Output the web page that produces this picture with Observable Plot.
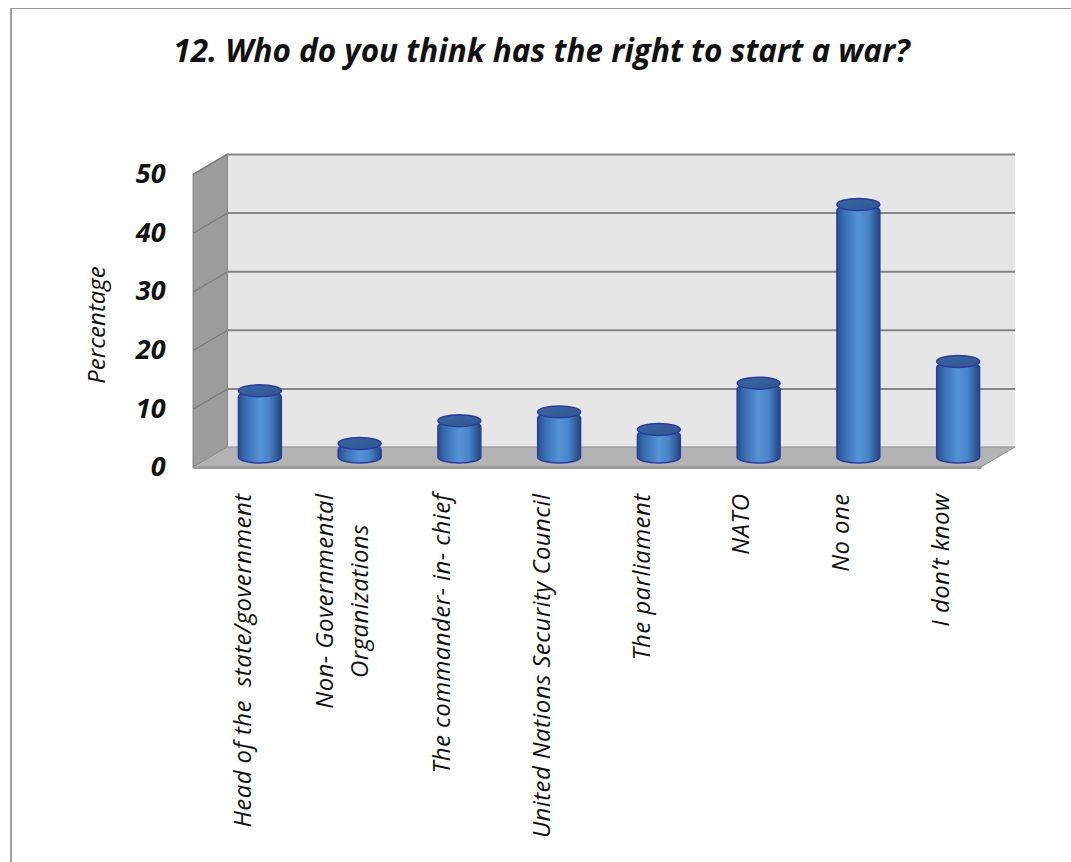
<!DOCTYPE html>
<html>
<head>
<meta charset="utf-8">
<script src="https://cdn.jsdelivr.net/npm/d3@7"></script>
<script src="https://cdn.jsdelivr.net/npm/@observablehq/plot@0.6"></script>
<style>
  html, body { margin: 0; padding: 0; background: #fff; }
  #wrap { position: relative; width: 1071px; height: 862px; overflow: hidden; background: #fff; }
  #frame { position: absolute; left: 10px; top: 8px; width: 1100px; height: 900px;
           border-top: 1.5px solid #9a9a9a; border-left: 2px solid #a0a0a0; }
  #title { position: relative; height: 100px; box-sizing: border-box; padding-top: 28px;
           padding-left: 12px; text-align: center; font-family: "Open Sans", Lato, sans-serif;
           font-weight: bold; font-style: italic; font-size: 31.5px; color: #111; letter-spacing: 0px; }
  #chart { position: relative; }
  svg text { font-family: "Open Sans", Lato, sans-serif; }
</style>
</head>
<body>
<div id="wrap">
  <div id="frame"></div>
  <div id="title">12. Who do you think has the right to start a war?</div>
  <div id="chart"></div>
</div>
<script>
const categories = [
  "Head of the  state/government",
  "Non- Governmental\nOrganizations",
  "The commander- in- chief",
  "United Nations Security Council",
  "The parliament",
  "NATO",
  "No one",
  "I don\u2019t know"
];
const values = [11.3, 2.3, 6.2, 7.7, 4.7, 12.6, 43.1, 16.3];
const yTicks = [0, 10, 20, 30, 40, 50];
const yLabel = "Percentage";

// depth of the 3D box, in data units (x: category steps, y: percent)
const DX = 0.34, DY = 3.41;
const xMin = -0.5, xMax = categories.length - 0.6;
const yMax = d3.max(yTicks);
const halfW = 0.215;   // cylinder half-width in category units
const capR = 1.02;     // cylinder cap half-height in percent units

const rows = categories.map((c, i) => ({i, c, v: values[i]}));
const sideWall = [{x: xMin, y1: 0, y2: yMax}, {x: xMin - DX, y1: -DY, y2: yMax - DY}];
const floor = [{y: -DY, x1: xMin - DX, x2: xMax - DX}, {y: 0, x1: xMin, x2: xMax}];

const plot = Plot.plot({
  width: 1071,
  height: 762,
  marginLeft: 227,
  marginRight: 46,
  marginTop: 54,
  marginBottom: 415,
  x: {type: "linear", domain: [-0.5, categories.length - 0.5], axis: null},
  y: {domain: [0, yMax], axis: null},
  marks: [
    // back wall
    Plot.rect([0], {x1: xMin, x2: xMax, y1: 0, y2: yMax, fill: "#e6e6e6"}),
    // side wall
    Plot.area(sideWall, {x1: "x", y1: "y1", y2: "y2", fill: "#9d9d9d", stroke: "#7d7d7d", strokeWidth: 1}),
    // floor
    Plot.area(floor, {x1: "x1", x2: "x2", y1: "y", fill: "#b3b3b3", stroke: "#8f8f8f", strokeWidth: 1}),
    Plot.link([0], {x1: xMin - DX, y1: -DY, x2: xMax - DX, y2: -DY, stroke: "#9a9a9a", strokeWidth: 3}),
    // grid lines on back wall
    Plot.ruleY(yTicks.filter(t => t > 0), {x1: xMin, x2: xMax, stroke: "#858585", strokeWidth: 2}),
    // grid lines on side wall
    Plot.link(yTicks.filter(t => t > 0), {x1: xMin, y1: d => d, x2: xMin - DX, y2: d => d - DY, stroke: "#7a7a7a", strokeWidth: 1.2}),
    Plot.link([0], {x1: xMin, y1: 0, x2: xMin, y2: yMax, stroke: "#8a8a8a", strokeWidth: 1}),
    // cylinders
    Plot.rect(rows, {x1: d => d.i - halfW, x2: d => d.i + halfW, y1: -capR, y2: d => d.v,
      rx: 21.5, ry: 6, dx: -17, dy: 10, fill: "url(#cylBody)", stroke: "#2c3a9e", strokeWidth: 1.5}),
    Plot.rect(rows, {x1: d => d.i - halfW, x2: d => d.i + halfW, y1: d => d.v - capR, y2: d => d.v + capR,
      rx: 21.5, ry: 6, dx: -17, dy: 10, fill: "url(#cylCap)", stroke: "#2c3a9e", strokeWidth: 1.5}),
    // y tick labels
    Plot.text(yTicks, {x: xMin - DX, y: d => d - DY, text: d => String(d), textAnchor: "end", dx: -28,
      fontSize: 27, fontWeight: "bold", fontStyle: "italic", fill: "#111"}),
    // y label
    Plot.text([yLabel], {x: xMin, y: yMax / 2, dx: -130, dy: 24, rotate: -90, fontSize: 24,
      fontStyle: "italic", fill: "#111"}),
    // category labels (last text mark)
    Plot.text(rows, {x: "i", y: -DY, text: "c", rotate: -90, textAnchor: "middle", dx: -38, dy: 26,
      lineHeight: 1.45, fontSize: 24, fontStyle: "italic", fill: "#111"})
  ]
});

document.getElementById("chart").appendChild(plot);

// gradients for cylinder shading
const svg = d3.select(plot);
const defs = svg.insert("defs", ":first-child");
const body = defs.append("linearGradient").attr("id", "cylBody").attr("x1", "0").attr("x2", "1").attr("y1", "0").attr("y2", "0");
[["0%", "#27508c"], ["18%", "#3a6fb4"], ["50%", "#5592d6"], ["72%", "#4a84c9"], ["100%", "#22467e"]]
  .forEach(([o, c]) => body.append("stop").attr("offset", o).attr("stop-color", c));
const cap = defs.append("linearGradient").attr("id", "cylCap").attr("x1", "0").attr("x2", "1").attr("y1", "0").attr("y2", "1");
[["0%", "#3b67a3"], ["100%", "#2f5690"]]
  .forEach(([o, c]) => cap.append("stop").attr("offset", o).attr("stop-color", c));

// anchor each rotated label block at its top, lines centred on each other
const textGroups = plot.querySelectorAll('g[aria-label="text"]');
const labelGroup = textGroups[textGroups.length - 1];
labelGroup.setAttribute("letter-spacing", "0.4");
labelGroup.querySelectorAll(":scope > text").forEach(t => {
  const spans = t.querySelectorAll("tspan");
  const items = spans.length ? Array.from(spans) : [t];
  const L = d3.max(items, el => el.getComputedTextLength());
  items.forEach(el => el.setAttribute("x", -L / 2));
});
</script>
</body>
</html>
